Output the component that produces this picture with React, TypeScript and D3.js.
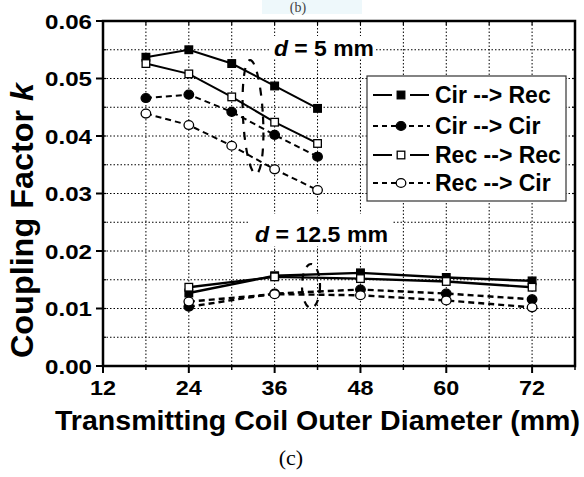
import React from "react";
import * as d3 from "d3";

const xTicks = [12, 24, 36, 48, 60, 72];
const yTicks = [0, 0.01, 0.02, 0.03, 0.04, 0.05, 0.06];
const yTickLabels = ["0.00", "0.01", "0.02", "0.03", "0.04", "0.05", "0.06"];
const xGrid = [18, 24, 30, 36, 42, 48, 54, 60, 66, 72];
const yGrid = [0.005, 0.01, 0.015, 0.02, 0.025, 0.03, 0.035, 0.04, 0.045, 0.05, 0.055];

const xD5 = [18, 24, 30, 36, 42];
const cirRec5 = [0.0537, 0.055, 0.0526, 0.0487, 0.0448];
const cirCir5 = [0.0466, 0.0472, 0.0442, 0.0402, 0.0364];
const recRec5 = [0.0526, 0.0508, 0.0468, 0.0424, 0.0387];
const recCir5 = [0.0439, 0.0419, 0.0383, 0.0342, 0.0306];

const xD12 = [24, 36, 48, 60, 72];
const cirRec12 = [0.0127, 0.0157, 0.0162, 0.0154, 0.0148];
const cirCir12 = [0.0103, 0.0126, 0.0133, 0.0126, 0.0116];
const recRec12 = [0.0137, 0.0155, 0.0152, 0.0147, 0.0137];
const recCir12 = [0.0112, 0.0125, 0.0123, 0.0114, 0.0102];

const seriesNames = ["Cir --> Rec", "Cir --> Cir", "Rec --> Rec", "Rec --> Cir"];

const W = 584, H = 477;
const L = 103, R = 575, T = 21, B = 366;
const FONT = "'Liberation Sans', Arial, Helvetica, sans-serif";

export default function App() {
  const x = d3.scaleLinear().domain([12, 78]).range([L, R]);
  const y = d3.scaleLinear().domain([0, 0.06]).range([B, T]);
  const line = (xs: number[], ys: number[]) =>
    d3.line<number>().x((_, i) => x(xs[i])).y((v) => y(v))(ys) || "";

  const series = [
    { name: seriesNames[0], dashed: false, marker: "sq", filled: true, d5: cirRec5, d12: cirRec12 },
    { name: seriesNames[1], dashed: true, marker: "ci", filled: true, d5: cirCir5, d12: cirCir12 },
    { name: seriesNames[2], dashed: false, marker: "sq", filled: false, d5: recRec5, d12: recRec12 },
    { name: seriesNames[3], dashed: true, marker: "ci", filled: false, d5: recCir5, d12: recCir12 },
  ];

  const marker = (type: string, filled: boolean, cx: number, cy: number, key: string) =>
    type === "sq" ? (
      <rect key={key} x={cx - 3.8} y={cy - 3.8} width={7.6} height={7.6}
        fill={filled ? "#000" : "#fff"} stroke="#000" strokeWidth={1.3} />
    ) : (
      <ellipse key={key} cx={cx} cy={cy} rx={4.8} ry={4.4}
        fill={filled ? "#000" : "#fff"} stroke="#000" strokeWidth={1.3} />
    );

  const legendY = [95, 126, 155, 183];

  return (
    <svg width={W} height={H} style={{ position: "absolute", left: 0, top: 0, background: "#fff" }}>
      <rect x={0} y={0} width={W} height={H} fill="#fff" />
      {/* top partial label */}
      <rect x={262} y={0} width={100} height={14} fill="#eef8fb" />
      <text x={298} y={12} textAnchor="middle" fontFamily="'Liberation Serif', serif" fontSize={14} fill="#444">(b)</text>

      {/* grid */}
      {xGrid.map((g) => (
        <line key={"gx" + g} x1={x(g)} x2={x(g)} y1={T} y2={B} stroke="#000" strokeWidth={1} strokeDasharray="1.5,2" />
      ))}
      {yGrid.map((g) => (
        <line key={"gy" + g} x1={L} x2={R} y1={y(g)} y2={y(g)} stroke="#000" strokeWidth={1} strokeDasharray="1.5,2" />
      ))}

      {/* annotation labels */}
      <rect x={271} y={36} width={104} height={22} fill="#fff" />
      <rect x={250} y={214} width={142} height={32} fill="#fff" />
      <text x={274} y={56} fontFamily={FONT} fontWeight="bold" fontSize={22.5} textLength={100} lengthAdjust="spacingAndGlyphs">
        <tspan fontStyle="italic">d</tspan> = 5 mm
      </text>
      <text x={255} y={242} fontFamily={FONT} fontWeight="bold" fontSize={22.5} textLength={133} lengthAdjust="spacingAndGlyphs">
        <tspan fontStyle="italic">d</tspan> = 12.5 mm
      </text>

      {/* ellipses */}
      <ellipse cx={253} cy={117} rx={10} ry={57} fill="none" stroke="#000" strokeWidth={2.2} strokeDasharray="8,8" transform="rotate(-3 253 117)" />
      <ellipse cx={311} cy={286} rx={9} ry={22} fill="none" stroke="#000" strokeWidth={2.2} strokeDasharray="7,7" />

      {/* series lines */}
      {series.map((s, si) => (
        <g key={"s" + si}>
          <path d={line(xD5, s.d5)} fill="none" stroke="#000" strokeWidth={2} strokeDasharray={s.dashed ? "6,4" : undefined} />
          <path d={line(xD12, s.d12)} fill="none" stroke="#000" strokeWidth={2.4} strokeDasharray={s.dashed ? "6,4" : undefined} />
        </g>
      ))}
      {series.map((s, si) => (
        <g key={"m" + si}>
          {s.d5.map((v, i) => marker(s.marker, s.filled, x(xD5[i]), y(v), "a" + i))}
          {s.d12.map((v, i) => marker(s.marker, s.filled, x(xD12[i]), y(v), "b" + i))}
        </g>
      ))}

      {/* frame */}
      <rect x={L} y={T} width={R - L} height={B - T} fill="none" stroke="#000" strokeWidth={2.5} />

      {/* ticks */}
      {xTicks.map((t) => (
        <line key={"xt" + t} x1={x(t)} x2={x(t)} y1={B} y2={B + 7} stroke="#000" strokeWidth={2} />
      ))}
      {xGrid.filter((g) => !xTicks.includes(g)).concat([78]).map((t) => (
        <line key={"xm" + t} x1={x(t)} x2={x(t)} y1={B} y2={B + 4} stroke="#000" strokeWidth={1.5} />
      ))}
      {xGrid.map((t) => (
        <line key={"xtt" + t} x1={x(t)} x2={x(t)} y1={T} y2={T + 4} stroke="#000" strokeWidth={1.2} />
      ))}
      {yTicks.map((t) => (
        <line key={"yt" + t} x1={L - 7} x2={L} y1={y(t)} y2={y(t)} stroke="#000" strokeWidth={2} />
      ))}
      {yGrid.map((t) => (
        <line key={"ym" + t} x1={L} x2={L + 3} y1={y(t)} y2={y(t)} stroke="#000" strokeWidth={1.2} />
      ))}
      {yGrid.map((t) => (
        <line key={"yr" + t} x1={R - 3} x2={R} y1={y(t)} y2={y(t)} stroke="#000" strokeWidth={1.2} />
      ))}

      {/* tick labels */}
      {xTicks.map((t) => (
        <text key={"xl" + t} x={x(t) - 13} y={395} fontFamily={FONT} fontWeight="bold" fontSize={21} textLength={26} lengthAdjust="spacingAndGlyphs">{t}</text>
      ))}
      {yTicks.map((t, i) => (
        <text key={"yl" + t} x={45} y={y(t) + 7.5} fontFamily={FONT} fontWeight="bold" fontSize={21} textLength={47} lengthAdjust="spacingAndGlyphs">{yTickLabels[i]}</text>
      ))}

      {/* axis titles */}
      <text x={55} y={430} fontFamily={FONT} fontWeight="bold" fontSize={28} textLength={525} lengthAdjust="spacingAndGlyphs">
        Transmitting Coil Outer Diameter (mm)
      </text>
      <text transform="translate(33,358) rotate(-90)" fontFamily={FONT} fontWeight="bold" fontSize={31} textLength={275} lengthAdjust="spacingAndGlyphs">
        Coupling Factor <tspan fontStyle="italic">k</tspan>
      </text>

      {/* legend */}
      <rect x={367} y={76} width={199} height={125} fill="#fff" stroke="#333" strokeWidth={1.2} />
      {series.map((s, i) => (
        <g key={"lg" + i}>
          <line x1={373} x2={430} y1={legendY[i]} y2={legendY[i]} stroke="#000" strokeWidth={2}
            strokeDasharray={s.dashed ? "5,4" : "19,18"} />
          {marker(s.marker, s.filled, 401, legendY[i], "lm" + i)}
          <text x={435} y={legendY[i] + 8} fontFamily={FONT} fontWeight="bold" fontSize={23}>{s.name}</text>
        </g>
      ))}

      {/* caption */}
      <text x={291} y={465} textAnchor="middle" fontFamily="'Liberation Serif', 'Times New Roman', serif" fontSize={22}>(c)</text>
    </svg>
  );
}
